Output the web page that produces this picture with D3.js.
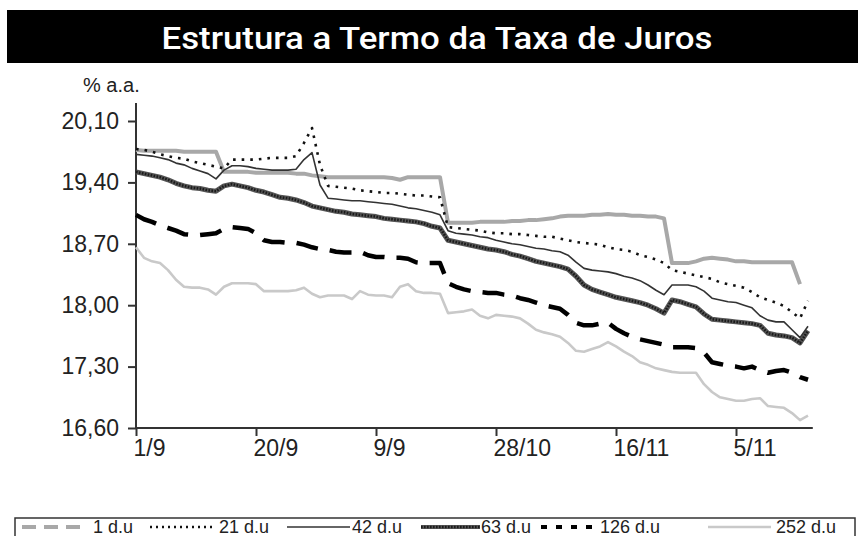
<!DOCTYPE html>
<html>
<head>
<meta charset="utf-8">
<script src="https://cdn.jsdelivr.net/npm/d3@7"></script>
<style>
  html, body { margin: 0; padding: 0; background: #fff; }
  svg { display: block; }
</style>
</head>
<body>
<div id="chart"></div>
<script>
// x categories: trading-day index, labelled every 15 days
const xTickIdx = [0, 15, 30, 45, 60, 75];
const xLabels = ["1/9", "20/9", "9/9", "28/10", "16/11", "5/11"];
const yTicks = [16.6, 17.3, 18.0, 18.7, 19.4, 20.1];

const seriesNames = ["1 d.u", "21 d.u", "42 d.u", "63 d.u", "126 d.u", "252 d.u"];

const du1 = [19.77,19.76,19.76,19.76,19.76,19.76,19.75,19.75,19.75,19.75,19.75,
  19.52,19.52,19.52,19.52,19.51,19.51,19.51,19.51,19.51,19.50,19.50,19.48,19.47,19.46,19.46,19.46,19.46,19.46,19.46,19.46,19.46,19.45,19.43,19.46,19.46,19.46,19.46,19.46,
  18.94,18.94,18.94,18.94,18.95,18.95,18.95,18.95,18.96,18.96,18.97,18.97,18.98,18.99,19.01,19.02,19.02,19.02,19.03,19.03,19.04,19.03,19.03,19.02,19.02,19.01,19.01,18.99,
  18.48,18.48,18.48,18.50,18.53,18.54,18.53,18.52,18.50,18.50,18.49,18.49,18.49,18.49,18.49,18.49,18.24,null];

const du21 = [19.78,19.77,19.75,19.72,19.70,19.68,19.67,19.64,19.62,19.60,19.58,19.56,
  19.66,19.66,19.66,19.66,19.67,19.68,19.68,19.68,19.70,19.85,20.02,19.60,
  19.36,19.35,19.34,19.33,19.31,19.30,19.29,19.28,19.28,19.27,19.26,19.25,19.25,19.24,19.23,
  18.89,18.88,18.87,18.86,18.85,18.83,18.82,18.82,18.81,18.81,18.80,18.79,18.78,18.78,18.76,18.74,18.72,18.71,18.70,18.69,18.66,18.64,18.63,18.61,18.57,18.55,18.52,18.48,
  18.40,18.38,18.36,18.34,18.32,18.30,18.26,18.24,18.22,18.20,18.15,18.09,18.06,18.03,17.99,17.92,17.85,18.05];

const du42 = [19.72,19.71,19.70,19.68,19.66,19.62,19.60,19.56,19.53,19.50,19.44,19.54,
  19.59,19.59,19.58,19.56,19.55,19.54,19.54,19.54,19.55,19.66,19.74,19.37,
  19.22,19.21,19.20,19.19,19.19,19.18,19.17,19.16,19.15,19.13,19.11,19.10,19.08,19.06,19.03,
  18.85,18.82,18.81,18.80,18.78,18.77,18.74,18.72,18.70,18.69,18.67,18.65,18.64,18.62,18.61,18.57,18.49,18.42,18.40,18.39,18.38,18.36,18.33,18.31,18.28,18.23,18.17,18.12,
  18.23,18.23,18.23,18.21,18.16,18.08,18.06,18.04,18.03,18.00,17.97,17.88,17.83,17.81,17.81,17.72,17.63,17.76];

const du63 = [19.52,19.50,19.48,19.46,19.43,19.39,19.36,19.34,19.33,19.31,19.30,19.36,
  19.38,19.36,19.34,19.31,19.29,19.26,19.23,19.22,19.20,19.17,19.13,19.11,
  19.09,19.07,19.06,19.04,19.03,19.02,19.01,18.99,18.98,18.97,18.96,18.95,18.93,18.90,18.88,
  18.74,18.72,18.70,18.68,18.66,18.64,18.63,18.61,18.58,18.56,18.53,18.50,18.48,18.46,18.44,18.41,18.33,18.23,18.18,18.15,18.12,18.09,18.07,18.05,18.03,18.00,17.96,17.91,
  18.06,18.04,18.01,17.98,17.90,17.84,17.83,17.82,17.81,17.80,17.79,17.77,17.68,17.66,17.65,17.63,17.57,17.71];

const du126 = [19.03,18.98,18.95,18.91,18.88,18.85,18.81,18.80,18.80,18.81,18.82,18.87,
  18.89,18.88,18.87,18.82,18.74,18.72,18.72,18.71,18.71,18.69,18.66,18.64,
  18.63,18.61,18.60,18.60,18.61,18.57,18.55,18.55,18.54,18.54,18.53,18.49,18.48,18.48,18.48,
  18.25,18.21,18.18,18.16,18.15,18.14,18.14,18.12,18.11,18.08,18.06,18.03,18.00,17.98,17.96,17.89,17.80,17.77,17.77,17.79,17.80,17.73,17.68,17.64,17.61,17.59,17.57,17.55,
  17.52,17.52,17.52,17.51,17.46,17.35,17.33,17.31,17.30,17.28,17.30,17.26,17.23,17.25,17.26,17.23,17.18,17.15];

const du252 = [18.66,18.54,18.50,18.48,18.40,18.29,18.21,18.20,18.20,18.18,18.12,18.21,
  18.25,18.25,18.25,18.24,18.16,18.16,18.16,18.16,18.17,18.20,18.13,18.09,
  18.11,18.11,18.11,18.07,18.16,18.12,18.11,18.11,18.09,18.21,18.24,18.16,18.14,18.14,18.13,
  17.91,17.92,17.93,17.95,17.88,17.85,17.89,17.88,17.87,17.85,17.79,17.72,17.69,17.67,17.64,17.57,17.48,17.47,17.50,17.53,17.58,17.53,17.47,17.42,17.35,17.32,17.28,17.26,
  17.24,17.23,17.23,17.23,17.10,17.01,16.95,16.93,16.91,16.91,16.93,16.94,16.85,16.84,16.83,16.77,16.69,16.74];

const W = 858, H = 536;
const fmt = v => d3.format(".2f")(v).replace(".", ",");

const svg = d3.select("#chart").append("svg")
  .attr("width", W)
  .attr("height", H);

/** title bar */
svg.append("rect")
  .attr("x", 7).attr("y", 10)
  .attr("width", W - 7).attr("height", 53)
  .attr("fill", "#000");

svg.append("text")
  .attr("x", 437).attr("y", 49)
  .attr("text-anchor", "middle")
  .attr("fill", "#fff")
  .attr("font-family", "'Liberation Sans Narrow', 'Arial Narrow', 'Roboto', sans-serif")
  .attr("font-weight", 500)
  .attr("font-size", 32)
  .attr("textLength", 551)
  .attr("lengthAdjust", "spacingAndGlyphs")
  .text("Estrutura a Termo da Taxa de Juros");

svg.append("text")
  .attr("x", 83).attr("y", 92)
  .attr("fill", "#222")
  .attr("font-family", "'Liberation Sans', Arial, sans-serif")
  .attr("font-size", 20)
  .text("% a.a.");

/** scales */
const x = d3.scaleLinear().domain([0, 84.6]).range([136, 812.8]);
const y = d3.scaleLinear().domain([16.6, 20.1]).range([428, 121]);

/** axes */
const yAxis = svg.append("g")
  .attr("transform", "translate(136,0)")
  .call(d3.axisLeft(y).tickValues(yTicks).tickFormat(fmt).tickSize(8).tickSizeOuter(0).tickPadding(9));

const xAxis = svg.append("g")
  .attr("transform", "translate(0,428)")
  .call(d3.axisBottom(x).tickValues(xTickIdx).tickFormat((d, i) => xLabels[i]).tickSize(8).tickSizeOuter(0).tickPadding(4));

[yAxis, xAxis].forEach(g => {
  g.select(".domain").remove();
  g.selectAll(".tick line").attr("stroke", "#333").attr("stroke-width", 2);
  g.selectAll(".tick text")
    .attr("fill", "#222")
    .attr("font-family", "'Liberation Sans', Arial, sans-serif")
    .attr("font-size", 23);
});
xAxis.selectAll(".tick text").attr("text-anchor", "start").attr("dx", -3);

// axis lines (y axis runs a bit above the top tick)
svg.append("line")
  .attr("x1", x(0)).attr("x2", x(0))
  .attr("y1", y(20.1) - 18).attr("y2", y(16.6) + 1)
  .attr("stroke", "#333").attr("stroke-width", 2);
svg.append("line")
  .attr("x1", x(0)).attr("x2", x.range()[1])
  .attr("y1", y(16.6)).attr("y2", y(16.6))
  .attr("stroke", "#333").attr("stroke-width", 2);

/** line styles per series */
const styles = [
  { data: du1,   stroke: "#a8a8a8", width: 4,   dash: null,    legendDash: "14,8" },
  { data: du21,  stroke: "#111",    width: 2.6, dash: "2.6,6", legendDash: "2,4" },
  { data: du42,  stroke: "#333",    width: 1.6, dash: null,    legendDash: null },
  { data: du63,  stroke: "#555",    width: 5,   dash: null,    legendDash: null, overlay: true },
  { data: du126, stroke: "#000",    width: 4.5, dash: "22,12", legendDash: "6,9" },
  { data: du252, stroke: "#c9c9c9", width: 2.6, dash: null,    legendDash: null }
];

const line = d3.line()
  .defined(d => d != null)
  .x((d, i) => x(i))
  .y(d => y(d));

const drawOrder = [0, 5, 4, 3, 2, 1];
const plot = svg.append("g").attr("id", "lines");
drawOrder.forEach(k => {
  const s = styles[k];
  plot.append("path")
    .attr("d", line(s.data))
    .attr("fill", "none")
    .attr("stroke", s.stroke)
    .attr("stroke-width", s.width)
    .attr("stroke-dasharray", s.dash)
    .attr("stroke-linejoin", "round");
  if (s.overlay) {
    plot.append("path")
      .attr("d", line(s.data))
      .attr("fill", "none")
      .attr("stroke", "#1a1a1a")
      .attr("stroke-width", 2.6)
      .attr("stroke-dasharray", "1.6,1.4");
  }
});

/** legend */
const legend = svg.append("g").attr("id", "legend");
legend.append("rect")
  .attr("x", 15).attr("y", 518)
  .attr("width", 840).attr("height", 40)
  .attr("fill", "#fff")
  .attr("stroke", "#333")
  .attr("stroke-width", 1.5);

const legendPos = [
  { x1: 22,  x2: 85,  tx: 93 },
  { x1: 150, x2: 216, tx: 219 },
  { x1: 287, x2: 350, tx: 352 },
  { x1: 421, x2: 480, tx: 481 },
  { x1: 541, x2: 597, tx: 600 },
  { x1: 708, x2: 771, tx: 776 }
];

legendPos.forEach((p, k) => {
  const s = styles[k];
  legend.append("line")
    .attr("x1", p.x1).attr("x2", p.x2)
    .attr("y1", 527).attr("y2", 527)
    .attr("stroke", s.stroke)
    .attr("stroke-width", Math.min(s.width, 4))
    .attr("stroke-dasharray", s.legendDash);
  if (s.overlay) {
    legend.append("line")
      .attr("x1", p.x1).attr("x2", p.x2)
      .attr("y1", 527).attr("y2", 527)
      .attr("stroke", "#1a1a1a")
      .attr("stroke-width", 2.4)
      .attr("stroke-dasharray", "1.6,1.4");
  }
  legend.append("text")
    .attr("x", p.tx).attr("y", 533)
    .attr("fill", "#222")
    .attr("font-family", "'Liberation Sans', Arial, sans-serif")
    .attr("font-size", 18)
    .text(seriesNames[k]);
});
</script>
</body>
</html>
